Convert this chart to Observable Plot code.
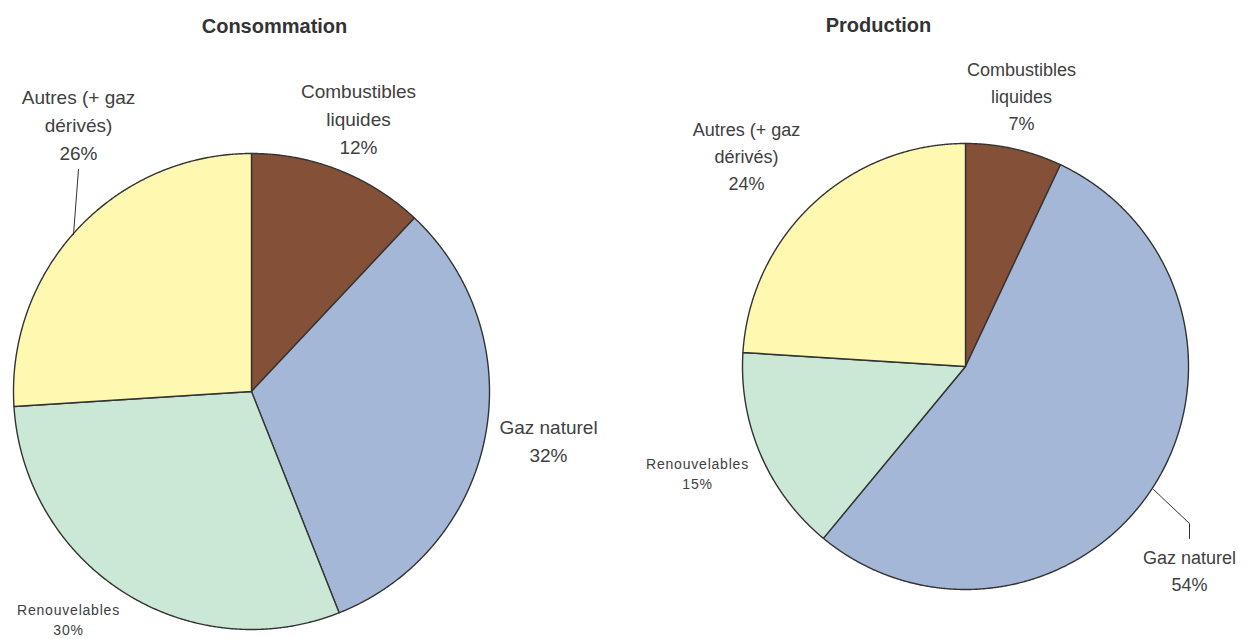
<!DOCTYPE html>
<html>
<head>
<meta charset="utf-8">
<script src="https://cdn.jsdelivr.net/npm/d3@7"></script>
<script src="https://cdn.jsdelivr.net/npm/@observablehq/plot@0.6"></script>
<style>
  body { margin: 0; background: #fff; }
  #chart { position: relative; width: 1249px; height: 639px; overflow: hidden; }
  #chart > svg { position: absolute; top: 0; }
</style>
</head>
<body>
<div id="chart"></div>
<script>
// Energy mix shares, in percent, clockwise from 12 o'clock
const categories = ["Combustibles liquides", "Gaz naturel", "Renouvelables", "Autres (+ gaz dérivés)"];
const consommation = [12, 32, 30, 26];
const production = [7, 54, 15, 24];
const labelNames = ["Combustibles\nliquides", "Gaz naturel", "Renouvelables", "Autres (+ gaz\ndérivés)"];
const titles = ["Consommation", "Production"];
const colors = ["#845038", "#a5b7d6", "#cbe7d5", "#fff8b0"];

const H = 639;
const ink = "#404040";
const font = "Liberation Sans, Arial, Helvetica, sans-serif";

// Page layout of each pie (pixels): panel box, pie centre and radius, label anchors
const panels = [
  {
    values: consommation, title: titles[0], left: 0, width: 620,
    cx: 251, cy: 391, r: 238, titlePos: [274, 26], fontSize: 19, lineH: 28,
    labelPos: [[358, 117], [548, 439], [68, 618], [78, 123]],
    leader: [[73, 234], [78, 169]]
  },
  {
    values: production, title: titles[1], left: 620, width: 629,
    cx: 965, cy: 366, r: 223, titlePos: [878, 25], fontSize: 18, lineH: 27,
    labelPos: [[1021, 94], [1189, 568], [697, 472], [746, 154]],
    leader: [[1153, 489], [1189, 523], [1189, 538]]
  }
];

const chart = document.getElementById("chart");

for (const p of panels) {
  const toX = (px) => (px - p.cx) / p.r;
  const toY = (py) => (p.cy - py) / p.r;

  // Slice outlines on the unit circle, angles from d3.pie (clockwise from top)
  const arcs = d3.pie().sort(null)(p.values);
  const slicePts = [];
  arcs.forEach((a, i) => {
    slicePts.push({cat: categories[i], x: 0, y: 0});
    const n = Math.max(2, Math.ceil((a.endAngle - a.startAngle) / 0.005));
    for (let k = 0; k <= n; ++k) {
      const t = a.startAngle + (a.endAngle - a.startAngle) * k / n;
      slicePts.push({cat: categories[i], x: Math.sin(t), y: Math.cos(t)});
    }
  });

  const labels = p.values.map((v, i) => ({
    text: `${labelNames[i]}\n${v}%`,
    x: toX(p.labelPos[i][0]),
    y: toY(p.labelPos[i][1]),
    small: categories[i] === "Renouvelables"
  }));

  const leader = p.leader.map(([px, py]) => ({x: toX(px), y: toY(py)}));

  const svg = Plot.plot({
    width: p.width,
    height: H,
    margin: 0,
    x: {domain: [toX(p.left), toX(p.left + p.width)], range: [0, p.width], axis: null},
    y: {domain: [toY(H), toY(0)], range: [H, 0], axis: null},
    color: {domain: categories, range: colors},
    style: {background: "transparent"},
    marks: [
      Plot.line(slicePts, {
        x: "x", y: "y", z: "cat", fill: "cat",
        stroke: "#333", strokeWidth: 1.4, strokeLinejoin: "round",
        curve: "linear-closed"
      }),
      Plot.line(leader, {x: "x", y: "y", stroke: "#333", strokeWidth: 1}),
      Plot.text(labels.filter((d) => !d.small), {
        x: "x", y: "y", text: "text", lineAnchor: "middle",
        fontSize: p.fontSize, lineHeight: p.lineH / p.fontSize,
        fill: ink, fontFamily: font
      }),
      Plot.text(labels.filter((d) => d.small), {
        x: "x", y: "y", text: "text", lineAnchor: "middle",
        fontSize: 14, lineHeight: 20 / 14,
        fill: ink, fontFamily: font
      }),
      Plot.text([p.title], {
        x: toX(p.titlePos[0]), y: toY(p.titlePos[1]), text: (d) => d,
        fontSize: 20, fontWeight: "bold", fill: "#333", fontFamily: font
      })
    ]
  });
  svg.style.left = p.left + "px";
  // Small category labels are drawn with slightly spread letters
  d3.select(svg).selectAll('g[font-size="14"]').attr("letter-spacing", "0.8px");
  chart.appendChild(svg);
}
</script>
</body>
</html>
